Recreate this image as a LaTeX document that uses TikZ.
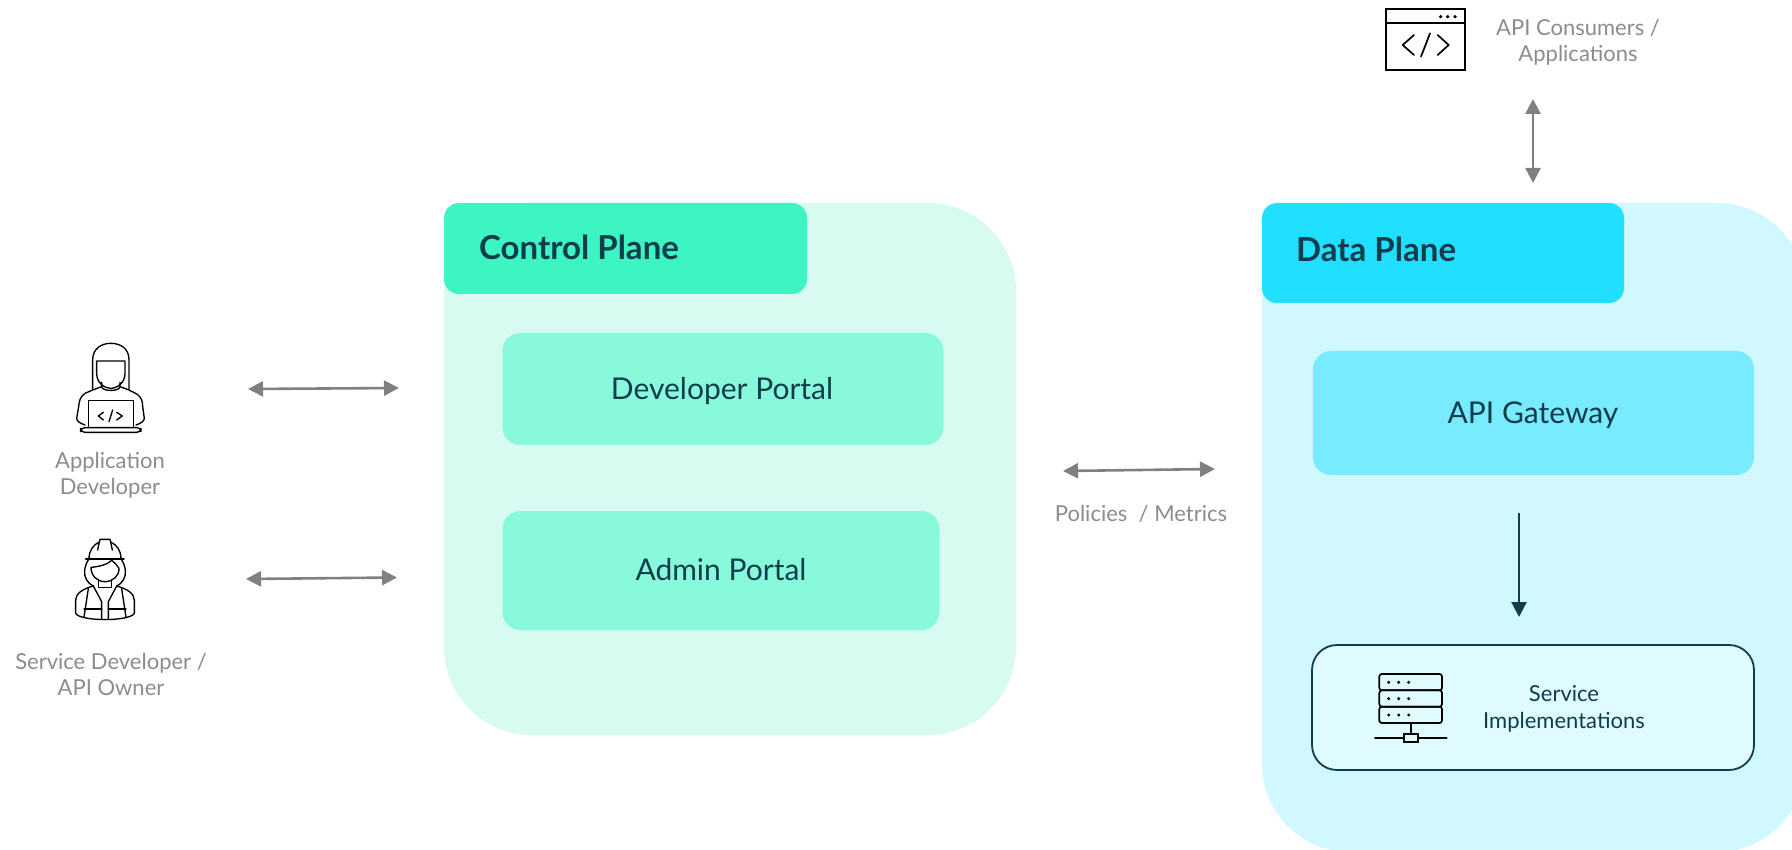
\documentclass[tikz,border=0pt]{standalone}
\usepackage{fontspec}
\setmainfont{Lato}
\usetikzlibrary{arrows.meta}
\definecolor{panelG}{HTML}{D7FBF1}
\definecolor{headG}{HTML}{3CF5C2}
\definecolor{portalG}{HTML}{88F9DB}
\definecolor{panelB}{HTML}{D1F8FF}
\definecolor{headB}{HTML}{21DFFF}
\definecolor{portalB}{HTML}{78EBFF}
\definecolor{svcB}{HTML}{E0FBFF}
\definecolor{inkD}{HTML}{0F3D4C}
\definecolor{grayT}{HTML}{8C8C8C}
\definecolor{grayA}{HTML}{808080}
\tikzset{
  boxn/.style={rectangle,inner sep=0pt,outer sep=0pt,draw=none},
  panel/.style={boxn,rounded corners=88pt},
  headbox/.style={boxn,rounded corners=15pt},
  headtext/.style={anchor=west,inner sep=0pt,text=inkD,font=\fontsize{33}{38}\selectfont\bfseries},
  portal/.style={boxn,rounded corners=18pt},
  boxtext/.style={inner sep=0pt,text=inkD,font=\fontsize{30}{36}\selectfont},
  greytext/.style={inner sep=0pt,align=center,text=grayT,font=\fontsize{22}{26}\selectfont},
  svctext/.style={inner sep=0pt,align=center,text=inkD,font=\fontsize{22}{26.5}\selectfont},
  twoway/.style={draw=grayA,line width=2.6pt,{Triangle[length=15pt,width=15pt]}-{Triangle[length=15pt,width=15pt]}},
  oneway/.style={draw=inkD,line width=2.2pt,-{Triangle[length=15pt,width=15pt]}},
  icon/.style={draw=black,line width=1.7pt,line cap=round,line join=round},
  personicon/.style={draw=black,line width=1.35pt,line cap=round,line join=round},
}
\begin{document}
\begin{tikzpicture}[x=1pt,y=-1pt]
\useasboundingbox (0,0) rectangle (1792,850);
% panels
\node[panel,fill=panelG,minimum width=572pt,minimum height=532pt] (control) at (730,469) {};
\node[panel,fill=panelB,minimum width=543pt,minimum height=649pt] (data) at (1533.5,527.5) {};
% headers
\node[headbox,fill=headG,minimum width=363pt,minimum height=91pt] (controlhead) at (625.5,248.5) {};
\node[headtext] (controltitle) at (479,247) {Control Plane};
\node[headbox,fill=headB,minimum width=362pt,minimum height=100pt] (datahead) at (1443,253) {};
\node[headtext] (datatitle) at (1296,249) {Data Plane};
% portals
\node[portal,fill=portalG,minimum width=441pt,minimum height=112pt] (devportal) at (723,389) {};
\node[boxtext] (devportaltext) at (722,391) {Developer Portal};
\node[portal,fill=portalG,minimum width=437pt,minimum height=119pt] (adminportal) at (721,570.5) {};
\node[boxtext] (adminportaltext) at (721,570) {Admin Portal};
\node[portal,fill=portalB,minimum width=441pt,minimum height=124pt] (gateway) at (1533.5,413) {};
\node[boxtext] (gatewaytext) at (1533,415) {API Gateway};
\node[boxn,rounded corners=25pt,fill=svcB,draw=inkD,line width=1.8pt,minimum width=442pt,minimum height=125pt] (service) at (1533,707.5) {};
\node[svctext] (servicetext) at (1564,709) {Service\\Implementations};
% grey labels
\node[greytext] (appdev) at (110,475) {Application\\Developer};
\node[greytext] (svcdev) at (111,674) {Service Developer /\\API Owner};
\node[greytext] (consumers) at (1578,42.5) {API Consumers /\\Applications};
\node[greytext] (policies) at (1141,514) {Policies\ \ / Metrics};
% connector ends
\coordinate (a1) at (248,389); \coordinate (a2) at (399,388);
\coordinate (b1) at (246,579); \coordinate (b2) at (397,577.5);
\coordinate (c1) at (1063,471); \coordinate (c2) at (1215,469);
\coordinate (d1) at (1533,99); \coordinate (d2) at (1533,183);
\coordinate (e1) at (1519,513); \coordinate (e2) at (1519,617);
\draw[twoway] (a1) -- (a2);
\draw[twoway] (b1) -- (b2);
\draw[twoway] (c1) -- (c2);
\draw[twoway] (d1) -- (d2);
\draw[oneway] (e1) -- (e2);
% developer icon
\begin{scope}[shift={(60,335)},scale=1/3,personicon]
\draw (98,162) -- (98,75) .. controls (98,40) and (125,25) .. (152,25) .. controls (182,25) and (207,40) .. (207,75) -- (207,162);
\draw (110,78) -- (195,78) -- (195,115) .. controls (195,145) and (170,160) .. (152,160) .. controls (135,160) and (110,145) .. (110,115) -- cycle;
\draw (125,142) -- (125,155) .. controls (125,170) and (180,170) .. (180,155) -- (180,142);
\draw (125,155) -- (98,165) -- (75,175) .. controls (60,185) and (57,200) .. (56,215) -- (50,250) .. controls (50,258) and (60,265) .. (75,270);
\draw (180,155) -- (207,165) -- (232,178) .. controls (245,188) and (248,200) .. (248,215) -- (253,250) .. controls (253,258) and (243,265) .. (228,270);
\draw (85,278) -- (85,197) -- (220,197) -- (220,278);
\draw[rounded corners=4pt] (62,278) -- (62,292) -- (243,292) -- (243,278) -- cycle;
\draw (130,232) -- (115,243) -- (130,255);
\draw (158,225) -- (147,260);
\draw (170,232) -- (187,243) -- (170,255);
\end{scope}
% service developer icon
\begin{scope}[shift={(60,530)},scale=1/3,personicon]
\draw (77,87) -- (192,87);
\draw (87,87) .. controls (87,60) and (100,45) .. (118,36) -- (120,28) -- (150,28) -- (152,36) .. controls (170,45) and (183,60) .. (183,87);
\draw (118,36) -- (113,60);
\draw (152,36) -- (157,60);
\draw (85,90) .. controls (72,110) and (70,135) .. (80,150) .. controls (85,158) and (92,165) .. (100,168);
\draw (185,90) .. controls (198,110) and (200,135) .. (190,150) .. controls (185,158) and (178,165) .. (170,168);
\draw (93,112) .. controls (120,110) and (145,102) .. (155,91) .. controls (165,100) and (172,105) .. (177,115) .. controls (178,138) and (158,155) .. (135,155) .. controls (112,155) and (93,138) .. (93,112) -- cycle;
\draw (115,152) -- (115,172) -- (155,172) -- (155,152);
\draw (100,168) .. controls (70,176) and (47,190) .. (47,210) -- (47,250) .. controls (60,275) and (210,275) .. (223,250) -- (223,210) .. controls (223,190) and (200,176) .. (170,168);
\draw (100,168) -- (125,215) -- (125,268);
\draw (170,168) -- (145,215) -- (145,268);
\draw (85,176) -- (72,262);
\draw (185,176) -- (198,262);
\draw (72,237) -- (125,237);
\draw (145,237) -- (198,237);
\end{scope}
% window icon
\begin{scope}[shift={(1340,0)},scale=1/3,icon]
\draw[line cap=butt,line join=miter] (138,27) rectangle (375,210);
\draw (138,70) -- (375,70);
\fill (302,50) circle (5.5) (323,50) circle (5.5) (345,50) circle (5.5);
\draw (222,105) -- (188,135) -- (222,165);
\draw (270,100) -- (243,170);
\draw (293,105) -- (326,135) -- (293,165);
\end{scope}
% server icon
\begin{scope}[shift={(1290,630)},scale=1/3,icon]
\draw[rounded corners=2.5pt] (268,132) rectangle (456,181);
\draw[rounded corners=2.5pt] (268,181) rectangle (456,230);
\draw[rounded corners=2.5pt] (268,230) rectangle (456,279);
\fill (296,157) circle (5) (326,157) circle (5) (356,157) circle (5);
\fill (296,206) circle (5) (326,206) circle (5) (356,206) circle (5);
\fill (296,255) circle (5) (326,255) circle (5) (356,255) circle (5);
\draw (362,279) -- (362,312);
\draw[line join=miter] (341,312) rectangle (385,337);
\draw (255,324) -- (341,324);
\draw (385,324) -- (470,324);
\end{scope}
\end{tikzpicture}
\end{document}
